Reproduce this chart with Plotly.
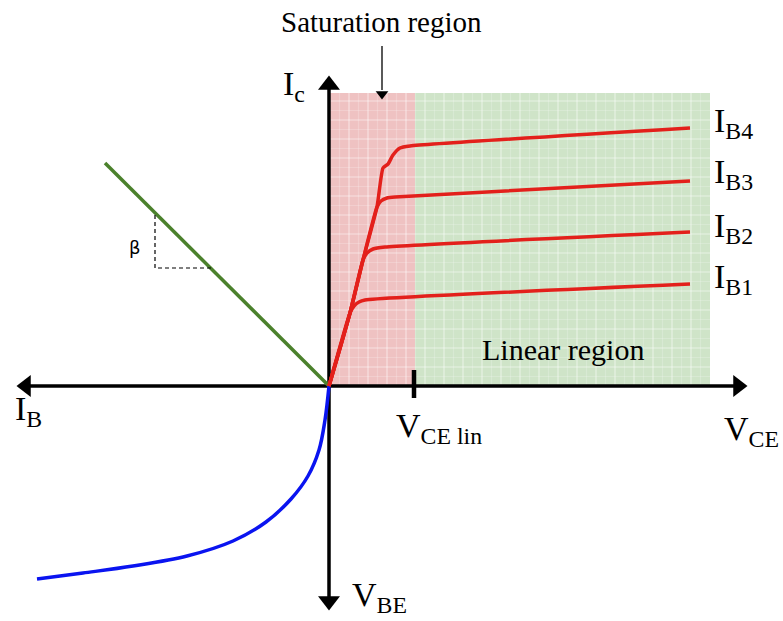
import plotly.graph_objects as go

# ---- data (diagram units, origin at the crossing of the axes) ----
ib_names = ["I<sub>B1</sub>", "I<sub>B2</sub>", "I<sub>B3</sub>", "I<sub>B4</sub>"]
ib1_x = [0, 21, 25, 30, 36, 361]
ib1_y = [0, 73, 80, 84, 86, 102]
ib2_x = [0, 21, 34, 38, 44, 56, 361]
ib2_y = [0, 73, 126, 133, 137, 139, 154]
ib3_x = [0, 21, 34, 48, 52, 58, 66, 361]
ib3_y = [0, 73, 126, 179, 185, 188, 189, 205]
ib4_x = [0, 21, 34, 48, 54, 59, 64, 71, 81, 361]
ib4_y = [0, 73, 126, 179, 218, 222, 231, 238, 240, 258]

beta_x = [-224, 0]
beta_y = [223, 0]

vbe_x = [0, -4, -10, -21, -38, -63, -96, -142, -196, -246, -292]
vbe_y = [0, -34, -64, -90, -113, -136, -155, -170, -180, -187, -193]

beta_tri_x = [-174, -174, -118]
beta_tri_y = [171, 118, 118]

sat_region = [1, 86]      # x extent of saturation region
lin_region = [86, 381]    # x extent of linear region
region_top = 293
vce_lin = 85

x_axis = [-311, 417]
y_axis = [-223, 309]

RED = "#e3201b"
GREEN = "#4b812c"
BLUE = "#0a14f0"
SERIF = "Liberation Serif"

fig = go.Figure()

# shaded regions
fig.add_shape(type="rect", x0=sat_region[0], x1=sat_region[1], y0=0, y1=region_top,
              fillcolor="#efc2c2", line_width=0, layer="below")
fig.add_shape(type="rect", x0=lin_region[0], x1=lin_region[1], y0=0, y1=region_top,
              fillcolor="#cfe4c8", line_width=0, layer="below")

# graph-paper grid
step = 9.5
k = 0
gx = sat_region[0] + step
while gx < lin_region[1]:
    k += 1
    col = "rgba(255,255,255,0.5)" if k % 2 == 0 else "rgba(255,255,255,0.2)"
    fig.add_shape(type="line", x0=gx, x1=gx, y0=0, y1=region_top,
                  line=dict(color=col, width=1.2), layer="below")
    gx += step
k = 0
gy = step
while gy < region_top:
    k += 1
    col = "rgba(255,255,255,0.5)" if k % 2 == 0 else "rgba(255,255,255,0.2)"
    fig.add_shape(type="line", x0=sat_region[0], x1=lin_region[1], y0=gy, y1=gy,
                  line=dict(color=col, width=1.2), layer="below")
    gy += step

# axes lines
fig.add_trace(go.Scatter(x=[x_axis[0] + 10, x_axis[1] - 10], y=[0, 0], mode="lines",
                         line=dict(color="black", width=3.5), hoverinfo="skip"))
fig.add_trace(go.Scatter(x=[0, 0], y=[y_axis[0] + 10, y_axis[1] - 10], mode="lines",
                         line=dict(color="black", width=3.5), hoverinfo="skip"))
# arrowheads
fig.add_trace(go.Scatter(x=[x_axis[0] + 8, x_axis[1] - 8, 0, 0],
                         y=[0, 0, y_axis[1] - 8, y_axis[0] + 8], mode="markers",
                         marker=dict(symbol=["triangle-left", "triangle-right", "triangle-up", "triangle-down"],
                                     size=19, color="black", line_width=0),
                         hoverinfo="skip"))
# V_CE lin tick
fig.add_trace(go.Scatter(x=[vce_lin, vce_lin], y=[16, -12], mode="lines",
                         line=dict(color="black", width=4.5), hoverinfo="skip"))

# beta line and triangle
fig.add_trace(go.Scatter(x=beta_x, y=beta_y, mode="lines",
                         line=dict(color=GREEN, width=3.5), hoverinfo="skip"))
fig.add_trace(go.Scatter(x=beta_tri_x, y=beta_tri_y, mode="lines",
                         line=dict(color="black", width=1.2, dash="4px,3px"), hoverinfo="skip"))

# V_BE curve
fig.add_trace(go.Scatter(x=vbe_x, y=vbe_y, mode="lines", line_shape="spline",
                         line=dict(color=BLUE, width=3.5), hoverinfo="skip"))

# I_B curves
for xs, ys in [(ib1_x, ib1_y), (ib2_x, ib2_y), (ib3_x, ib3_y), (ib4_x, ib4_y)]:
    fig.add_trace(go.Scatter(x=xs, y=ys, mode="lines", line_shape="spline",
                             line=dict(color=RED, width=3.5, smoothing=0.5), hoverinfo="skip"))

# saturation arrow
fig.add_trace(go.Scatter(x=[53, 53], y=[340, 296], mode="lines",
                         line=dict(color="black", width=1.3), hoverinfo="skip"))
fig.add_trace(go.Scatter(x=[53], y=[292], mode="markers",
                         marker=dict(symbol="triangle-down", size=11, color="black"), hoverinfo="skip"))

# text
def txt(x, y, s, size, xanchor="left", yanchor="middle", family=SERIF):
    fig.add_annotation(x=x, y=y, text=s, showarrow=False, xanchor=xanchor, yanchor=yanchor,
                       font=dict(family=family, size=size, color="black"))

txt(52, 364, "Saturation region", 29, xanchor="center")
txt(-48, 300, "I<sub>c</sub>", 34)
ib_label_y = [107, 158, 212, 263]
for name, yy in zip(ib_names, ib_label_y):
    txt(383, yy, name, 34)
txt(234, 37, "Linear region", 30, xanchor="center")
txt(65, -42, "V<sub>CE lin</sub>", 34)
txt(393, -45, "V<sub>CE</sub>", 34)
txt(-316, -25, "I<sub>B</sub>", 34)
txt(21, -211, "V<sub>BE</sub>", 34)
txt(-194, 139, "β", 18, xanchor="center", family="DejaVu Sans")

fig.update_layout(
    width=783, height=621, margin=dict(l=0, r=0, t=0, b=0),
    paper_bgcolor="white", plot_bgcolor="white", showlegend=False,
    xaxis=dict(range=[-329, 454], visible=False, fixedrange=True),
    yaxis=dict(range=[-235, 386], visible=False, fixedrange=True),
)

fig.write_html("out.html", config={"displayModeBar": False},
               post_script="document.body.style.margin='0px';")
